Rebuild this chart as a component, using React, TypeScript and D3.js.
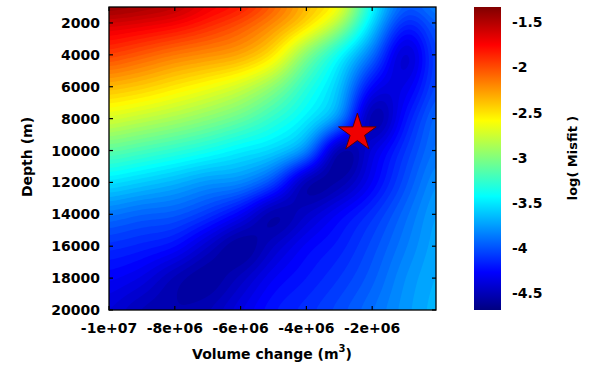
import React from "react";
import * as d3 from "d3";

// Grid of log10(misfit)
const volumes = [-1e7, -9e6, -8e6, -7e6, -6e6, -5e6, -4e6, -3e6, -2e6, -1e6, 0];
const depths = [1000, 2000, 4000, 6000, 8000, 10000, 12000, 14000, 16000, 18000, 20000];

const row1000 = [-1.36, -1.42, -1.5, -1.68, -1.8, -2.05, -2.35, -2.6, -3.4, -3.95, -3.8];
const row2000 = [-1.6, -1.65, -1.72, -1.85, -2.0, -2.2, -2.45, -2.85, -3.55, -4.15, -3.92];
const row4000 = [-1.95, -2.05, -2.15, -2.22, -2.3, -2.52, -3.0, -3.42, -3.9, -4.45, -3.98];
const row6000 = [-2.35, -2.42, -2.52, -2.62, -2.75, -2.97, -3.3, -3.62, -4.28, -4.35, -3.98];
const row8000 = [-2.72, -2.8, -2.88, -2.98, -3.1, -3.28, -3.48, -3.8, -4.58, -4.22, -3.88];
const row10000 = [-3.12, -3.2, -3.28, -3.37, -3.48, -3.57, -3.82, -4.58, -4.38, -4.1, -3.85];
const row12000 = [-3.52, -3.6, -3.68, -3.78, -3.82, -4.05, -4.55, -4.55, -4.3, -4.02, -3.77];
const row14000 = [-3.88, -3.95, -3.98, -4.1, -4.3, -4.57, -4.45, -4.28, -4.12, -3.92, -3.72];
const row16000 = [-4.12, -4.17, -4.24, -4.45, -4.62, -4.45, -4.28, -4.18, -4.03, -3.86, -3.7];
const row18000 = [-4.28, -4.36, -4.52, -4.6, -4.48, -4.3, -4.2, -4.1, -3.97, -3.8, -3.68];
const row20000 = [-4.4, -4.52, -4.55, -4.5, -4.35, -4.2, -4.12, -4.02, -3.9, -3.77, -3.66];

const gridRows = [row1000, row2000, row4000, row6000, row8000, row10000, row12000, row14000, row16000, row18000, row20000];

const starVolume = [-2.45e6];
const starDepth = [8900];

const xTicks = [-1e7, -8e6, -6e6, -4e6, -2e6];
const xTickLabels = ["-1e+07", "-8e+06", "-6e+06", "-4e+06", "-2e+06"];
const yTicks = [2000, 4000, 6000, 8000, 10000, 12000, 14000, 16000, 18000, 20000];
const cTicks = [-1.5, -2, -2.5, -3, -3.5, -4, -4.5];
const cTickLabels = ["-1.5", "-2", "-2.5", "-3", "-3.5", "-4", "-4.5"];

const cMin = -4.69;
const cMax = -1.33;

function jet(t: number): string {
  const c = (v: number) => Math.max(0, Math.min(1, v));
  const r = c(1.5 - Math.abs(4 * t - 3));
  const g = c(1.5 - Math.abs(4 * t - 2));
  const b = c(1.5 - Math.abs(4 * t - 1));
  return d3.rgb(r * 255, g * 255, b * 255).formatHex();
}

// cubic Hermite with finite-difference tangents over non-uniform knots
function hermite(xs: number[], ys: number[], x: number): number {
  const n = xs.length;
  let i = 0;
  while (i < n - 2 && x > xs[i + 1]) i++;
  const x0 = xs[i], x1 = xs[i + 1];
  const h = x1 - x0;
  const t = Math.max(0, Math.min(1, (x - x0) / h));
  const slope = (k: number) => {
    if (k === 0) return (ys[1] - ys[0]) / (xs[1] - xs[0]);
    if (k === n - 1) return (ys[n - 1] - ys[n - 2]) / (xs[n - 1] - xs[n - 2]);
    return (ys[k + 1] - ys[k - 1]) / (xs[k + 1] - xs[k - 1]);
  };
  const m0 = slope(i) * h, m1 = slope(i + 1) * h;
  const t2 = t * t, t3 = t2 * t;
  return (2 * t3 - 3 * t2 + 1) * ys[i] + (t3 - 2 * t2 + t) * m0 + (-2 * t3 + 3 * t2) * ys[i + 1] + (t3 - t2) * m1;
}

function field(v: number, d: number): number {
  const col = gridRows.map((row) => hermite(volumes, row, v));
  return hermite(depths, col, d);
}

// separable gaussian smoothing of the sampled grid (edges clamped)
function smooth(vals: number[], nx: number, ny: number, sigma: number): number[] {
  const r = Math.ceil(sigma * 2.5);
  const k: number[] = [];
  let s = 0;
  for (let i = -r; i <= r; i++) {
    const w = Math.exp(-(i * i) / (2 * sigma * sigma));
    k.push(w);
    s += w;
  }
  const kern = k.map((w) => w / s);
  const tmp = new Array(nx * ny).fill(0);
  const out = new Array(nx * ny).fill(0);
  for (let j = 0; j < ny; j++)
    for (let i = 0; i < nx; i++) {
      let acc = 0;
      for (let q = -r; q <= r; q++) {
        const ii = Math.max(0, Math.min(nx - 1, i + q));
        acc += kern[q + r] * vals[j * nx + ii];
      }
      tmp[j * nx + i] = acc;
    }
  for (let j = 0; j < ny; j++)
    for (let i = 0; i < nx; i++) {
      let acc = 0;
      for (let q = -r; q <= r; q++) {
        const jj = Math.max(0, Math.min(ny - 1, j + q));
        acc += kern[q + r] * tmp[jj * nx + i];
      }
      out[j * nx + i] = acc;
    }
  return out;
}

const W = 590, H = 370;
const X0 = 109, X1 = 436, Y0 = 7, Y1 = 310;
const FONT = "'DejaVu Sans', sans-serif";

export default function App() {
  const x = d3.scaleLinear().domain([-1e7, -6e4]).range([X0, X1]);
  const y = d3.scaleLinear().domain([1000, 20000]).range([Y0, Y1]);
  const cy = d3.scaleLinear().domain([cMin, cMax]).range([Y1, Y0]);

  const step = 2;
  const nx = Math.ceil((X1 - X0) / step);
  const ny = Math.ceil((Y1 - Y0) / step);
  const sx = (X1 - X0) / nx, sy = (Y1 - Y0) / ny;
  const raw: number[] = new Array(nx * ny);
  for (let j = 0; j < ny; j++) {
    const dep = y.invert(Y0 + (j + 0.5) * sy);
    for (let i = 0; i < nx; i++) {
      const vol = x.invert(X0 + (i + 0.5) * sx);
      raw[j * nx + i] = field(vol, dep);
    }
  }
  const values = smooth(raw, nx, ny, 3.5);
  const levelStep = 0.05;
  const thresholds = d3.range(-4.75, -1.25, levelStep);
  const contours = d3.contours().size([nx, ny]).thresholds(thresholds)(values);
  const path = d3.geoPath();

  const star = d3.symbol().type(d3.symbolStar).size(440)();

  const jetStops = [0, 0.125, 0.375, 0.625, 0.875, 1];

  const tick = 4;
  return (
    <svg width={W} height={H} style={{ position: "absolute", left: 0, top: 0, background: "#fff" }} fontFamily={FONT}>
      <defs>
        <clipPath id="plotclip">
          <rect x={X0} y={Y0} width={X1 - X0} height={Y1 - Y0} />
        </clipPath>
        <linearGradient id="jetgrad" x1="0" y1="1" x2="0" y2="0">
          {jetStops.map((o) => (
            <stop key={o} offset={o} stopColor={jet(o)} />
          ))}
        </linearGradient>
      </defs>
      <g clipPath="url(#plotclip)">
        <rect x={X0} y={Y0} width={X1 - X0} height={Y1 - Y0} fill={jet(0)} />
        <g transform={`translate(${X0},${Y0}) scale(${sx},${sy})`}>
          {contours.map((c, k) => {
            const mid = c.value + levelStep / 2;
            const t = (mid - cMin) / (cMax - cMin);
            return <path key={k} d={path(c as any) || ""} fill={jet(Math.max(0, Math.min(1, t)))} stroke="none" />;
          })}
        </g>
      </g>
      {starVolume.map((v, i) => (
        <path key={i} d={star || ""} transform={`translate(${x(v)},${y(starDepth[i])})`} fill="#f00000" stroke="#5a0000" strokeWidth={1} />
      ))}
      <rect x={X0} y={Y0} width={X1 - X0} height={Y1 - Y0} fill="none" stroke="#000" strokeWidth={1.3} />
      {xTicks.map((t, i) => (
        <g key={i}>
          <line x1={x(t)} x2={x(t)} y1={Y0} y2={Y0 + tick} stroke="#000" strokeWidth={1.2} />
          <line x1={x(t)} x2={x(t)} y1={Y1} y2={Y1 - tick} stroke="#000" strokeWidth={1.2} />
          <text x={x(t)} y={328} textAnchor="middle" dominantBaseline="central" fontSize={14} fontWeight="bold">
            {xTickLabels[i]}
          </text>
        </g>
      ))}
      {yTicks.map((t, i) => (
        <g key={i}>
          <line x1={X0} x2={X0 + tick} y1={y(t)} y2={y(t)} stroke="#000" strokeWidth={1.2} />
          <line x1={X1} x2={X1 - tick} y1={y(t)} y2={y(t)} stroke="#000" strokeWidth={1.2} />
          <text x={100} y={y(t)} textAnchor="end" dominantBaseline="central" fontSize={14} fontWeight="bold">
            {String(t)}
          </text>
        </g>
      ))}
      <text x={272} y={354} textAnchor="middle" dominantBaseline="central" fontSize={14} fontWeight="bold">
        <tspan>Volume change (m</tspan>
        <tspan fontSize={10} dy={-6}>3</tspan>
        <tspan dy={6}>)</tspan>
      </text>
      <text transform={`translate(27,157) rotate(-90)`} textAnchor="middle" dominantBaseline="central" fontSize={14} fontWeight="bold">
        Depth (m)
      </text>
      <rect x={474} y={Y0} width={27} height={Y1 - Y0} fill="url(#jetgrad)" />
      {cTicks.map((t, i) => (
        <text key={i} x={512} y={cy(t)} dominantBaseline="central" fontSize={14} fontWeight="bold">
          {cTickLabels[i]}
        </text>
      ))}
      <text transform={`translate(572,158) rotate(-90)`} textAnchor="middle" dominantBaseline="central" fontSize={13} fontWeight="bold">
        log( Misfit )
      </text>
    </svg>
  );
}
